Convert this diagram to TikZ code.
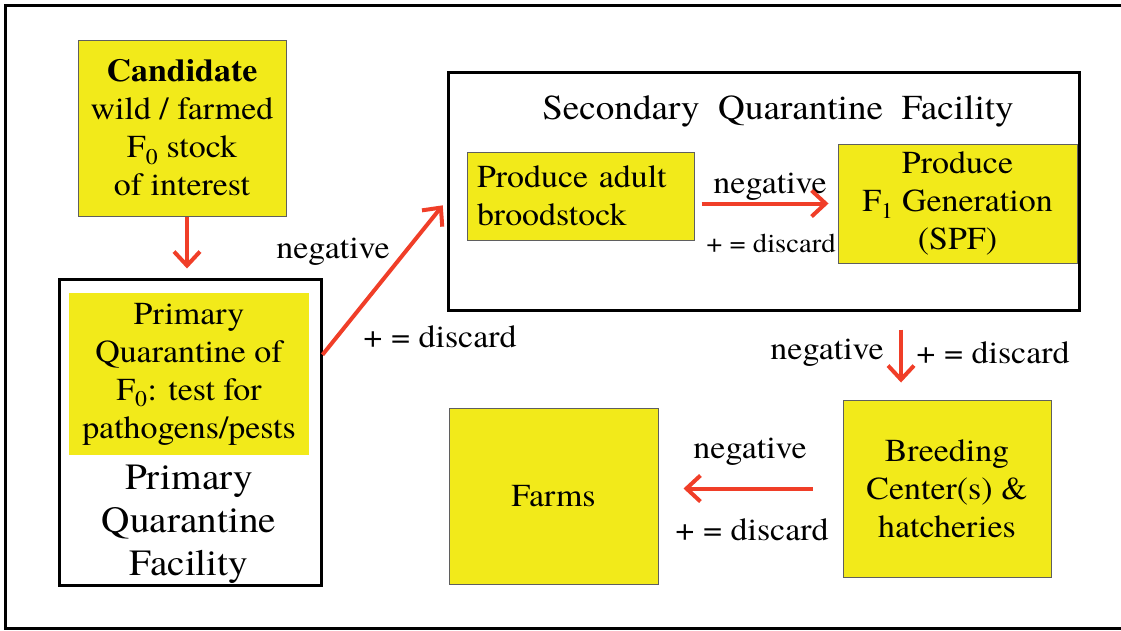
\documentclass[tikz,border=0pt]{standalone}
\usepackage{fontspec}
\setmainfont{texgyretermes}[Extension=.otf, UprightFont=*-regular, BoldFont=*-bold, FakeStretch=1.06]
\usepackage{xcolor}
\usetikzlibrary{arrows.meta, positioning, calc}

\definecolor{boxyellow}{RGB}{242,234,26}
\definecolor{arrowred}{RGB}{240,62,40}
\definecolor{edgegray}{RGB}{95,95,95}

\begin{document}
\begin{tikzpicture}[
  x=1pt, y=-1pt,
  every node/.style={font=\fontsize{32}{38}\selectfont, inner sep=0pt},
  box/.style={draw=edgegray, line width=1pt, fill=boxyellow, align=center},
  facility/.style={draw=black, line width=3pt},
  arrow/.style={-{Straight Barb[length=14pt,width=26pt]}, line width=4pt, arrowred},
  label/.style={font=\fontsize{32}{38}\selectfont},
  smalllabel/.style={font=\fontsize{27}{32}\selectfont}
]
\useasboundingbox (0,0) rectangle (1121,630);

%% Frame
\draw[line width=3pt] (1121,5) -- (5,5) -- (5,628) -- (1121,628);

%% Nodes
\node[box, minimum width=208pt, minimum height=176pt] (cand) at (182,128)
  {\textbf{Candidate}\\wild / farmed\\F\textsubscript{0} stock\\of interest};

\node[facility, minimum width=262pt, minimum height=306pt] (primfac) at (190,432) {};
\node[fill=boxyellow, minimum width=240pt, minimum height=162pt, align=center,
      font=\fontsize{32}{38}\selectfont] (primtest) at (189,374)
  {Primary\\Quarantine of\\F\textsubscript{0}: test for\\pathogens/pests};
\node[align=center, font=\fontsize{37}{43}\selectfont, below=10pt of primtest] (primname)
  {Primary\\Quarantine\\Facility};

\node[facility, minimum width=631pt, minimum height=238pt] (secfac) at (763.5,191) {};
\node[font=\fontsize{35}{40}\selectfont] (sectitle) at (778,111)
  {Secondary\ \ Quarantine\ \ Facility};
\node[box, text width=207pt, inner xsep=10pt, minimum height=88pt, align=left] (adult)
  at (580.5,196) {Produce adult\\broodstock};
\node[box, minimum width=239pt, minimum height=119pt] (fone) at (957.5,203.5)
  {Produce\\F\textsubscript{1} Generation\\(SPF)};

\node[box, minimum width=208pt, minimum height=177pt] (breed) at (947,488.5)
  {Breeding\\Center(s) \&\\hatcheries};
\node[box, minimum width=209pt, minimum height=176pt] (farms) at (553.5,496) {Farms};

%% Labels
\node[label] (negone) at (333,252) {negative};
\node[label] (disone) at (440,337) {+ = discard};
\node[label] (negtwo) at (770,187) {negative};
\node[smalllabel] (distwo) at (771,243) {+ = discard};
\node[label] (negthree) at (827,353) {negative};
\node[label] (disthree) at (993,353) {+ = discard};
\node[label] (negfour) at (750,452) {negative};
\node[label] (disfour) at (752,530) {+ = discard};

%% Arrows
\draw[arrow, shorten >=9pt] (cand.south -| 187,0) -- (primfac.north -| 187,0);
\draw[arrow, shorten >=6pt]
  ($(primfac.north east)!0.25!(primfac.south east)$) --
  ($(secfac.north west)!0.54!(secfac.south west)$);
\draw[arrow, shorten <=7pt, shorten >=9pt] (adult.east |- fone.west) -- (fone.west);
\coordinate (breedin) at ($(breed.north west)!0.28!(breed.north east)$);
\draw[arrow, shorten <=18pt, shorten >=17pt] (breedin |- secfac.south) -- (breedin);
\draw[arrow, shorten <=30pt, shorten >=25pt] (breed.west) -- (breed.west -| farms.east);

\end{tikzpicture}
\end{document}
